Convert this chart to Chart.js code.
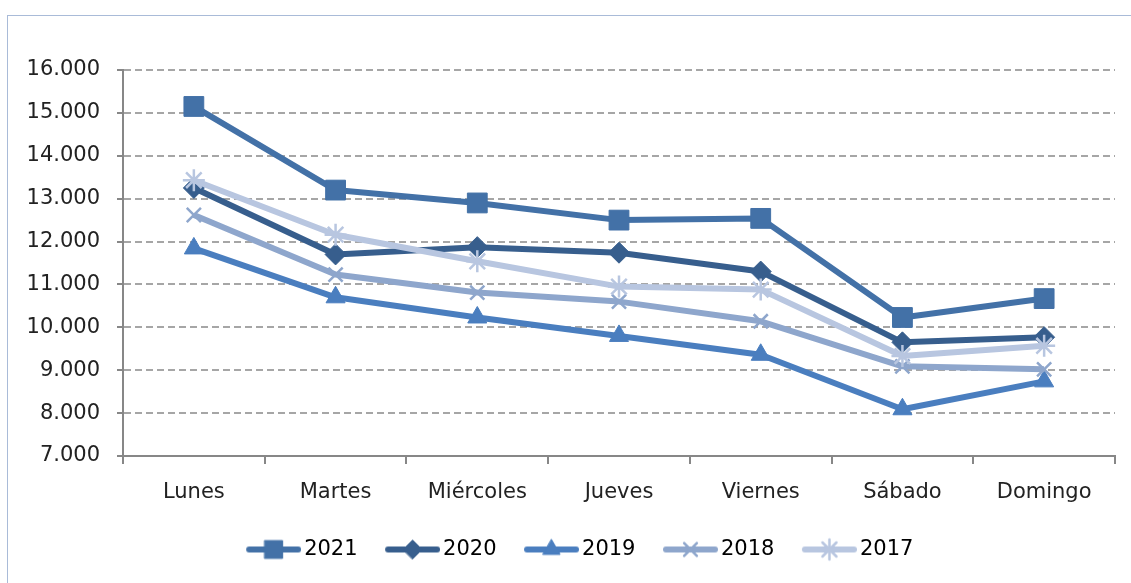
<!DOCTYPE html>
<html lang="es">
<head>
<meta charset="utf-8">
<title>Promedio diario por día de la semana</title>
<script src="https://cdn.jsdelivr.net/npm/chart.js@4/dist/chart.umd.min.js"></script>
<style>
  html, body { margin: 0; padding: 0; background: #fff; overflow: hidden; }
  .marco {
    position: absolute; left: 7px; top: 15px;
    width: 1150px; height: 600px;
    border: 1px solid #a9bbd8;
  }
  #grafico { position: absolute; left: 0; top: 0; }
</style>
</head>
<body>
<div class="marco"></div>
<canvas id="grafico" width="1131" height="583"></canvas>
<script>
// datos
const dias = ["Lunes", "Martes", "Miércoles", "Jueves", "Viernes", "Sábado", "Domingo"];
const anios = ["2021", "2020", "2019", "2018", "2017"];

const v2021 = [15150, 13200, 12900, 12500, 12540, 10230, 10670];
const v2020 = [13250, 11700, 11870, 11740, 11300, 9650, 9770];
const v2019 = [11840, 10700, 10230, 9800, 9360, 8090, 8740];
const v2018 = [12620, 11230, 10810, 10600, 10140, 9090, 9020];
const v2017 = [13430, 12160, 11540, 10950, 10880, 9330, 9570];

const yMin = 7000, yMax = 16000, yPaso = 1000;

const colores = ["#4371a7", "#375e8d", "#4a7ebf", "#8ea6cc", "#b8c6e0"];
const marcadores = ["rect", "rectRot", "triangle", "crossRot", "star"];
const radios = [14, 10.5, 11, 10, 11];

const fuente = "'DejaVu Sans', sans-serif";

// separador de miles con punto
function formatoMiles(v) {
  return String(v).replace(/\B(?=(\d{3})+(?!\d))/g, ".");
}

// icono de la leyenda: línea con el marcador en medio
function iconoLeyenda(color, estilo, radio) {
  const c = document.createElement("canvas");
  c.width = 63;
  c.height = 30;
  const ctx = c.getContext("2d");
  ctx.strokeStyle = color;
  ctx.lineWidth = 6;
  ctx.lineCap = "round";
  ctx.beginPath();
  ctx.moveTo(11, 15);
  ctx.lineTo(60, 15);
  ctx.stroke();
  ctx.fillStyle = color;
  ctx.lineWidth = (estilo === "crossRot" || estilo === "star") ? 2.5 : 1;
  Chart.helpers.drawPoint(ctx, { pointStyle: estilo, radius: radio, rotation: 0, borderWidth: ctx.lineWidth }, 35.5, 15);
  return c;
}

// la leyenda del original está algo corrida a la derecha
const moverLeyenda = {
  id: "moverLeyenda",
  afterLayout(chart) {
    if (chart.legend) {
      chart.legend.left += 22;
      chart.legend.right += 22;
    }
  }
};

const series = [v2021, v2020, v2019, v2018, v2017];

const datasets = series.map((valores, i) => ({
  label: anios[i],
  data: valores,
  borderColor: colores[i],
  backgroundColor: colores[i],
  borderWidth: 6,
  borderJoinStyle: "round",
  pointStyle: marcadores[i],
  pointRadius: radios[i],
  pointHoverRadius: radios[i],
  pointBackgroundColor: colores[i],
  pointBorderColor: colores[i],
  pointBorderWidth: (marcadores[i] === "crossRot" || marcadores[i] === "star") ? 2.5 : 1,
  tension: 0,
  // 2017 queda encima, como en el original
  order: series.length - 1 - i
}));

new Chart(document.getElementById("grafico"), {
  type: "line",
  data: {
    labels: dias,
    datasets: datasets
  },
  plugins: [moverLeyenda],
  options: {
    responsive: false,
    animation: false,
    layout: {
      padding: { top: 70, right: 16, bottom: 13, left: 0 }
    },
    plugins: {
      tooltip: { enabled: false },
      legend: {
        position: "bottom",
        labels: {
          usePointStyle: true,
          pointStyleWidth: 48,
          padding: 27,
          color: "#222",
          font: { family: fuente, size: 21 },
          generateLabels: (chart) => chart.data.datasets.map((ds, i) => ({
            text: ds.label,
            fillStyle: ds.borderColor,
            strokeStyle: ds.borderColor,
            lineWidth: 0,
            pointStyle: iconoLeyenda(ds.borderColor, ds.pointStyle, ds.pointRadius * 0.9),
            hidden: false,
            datasetIndex: i
          }))
        }
      }
    },
    scales: {
      x: {
        offset: true,
        grid: {
          offset: true,
          drawOnChartArea: false,
          tickLength: 8,
          color: "#878787",
          lineWidth: 2
        },
        border: { color: "#878787", width: 2 },
        ticks: {
          padding: 16,
          color: "#222",
          font: { family: fuente, size: 21 },
          maxRotation: 0
        },
        afterFit: (escala) => { escala.height = 56; }
      },
      y: {
        min: yMin,
        max: yMax,
        grid: {
          color: "#a6a6a6",
          lineWidth: 2,
          tickLength: 6,
          tickColor: "#878787",
          tickBorderDash: []
        },
        border: { color: "#878787", width: 2, dash: [7, 4] },
        ticks: {
          stepSize: yPaso,
          padding: 17,
          color: "#222",
          font: { family: fuente, size: 21 },
          callback: (v) => formatoMiles(v)
        },
        afterFit: (escala) => { escala.width = 123; }
      }
    }
  }
});
</script>
</body>
</html>
